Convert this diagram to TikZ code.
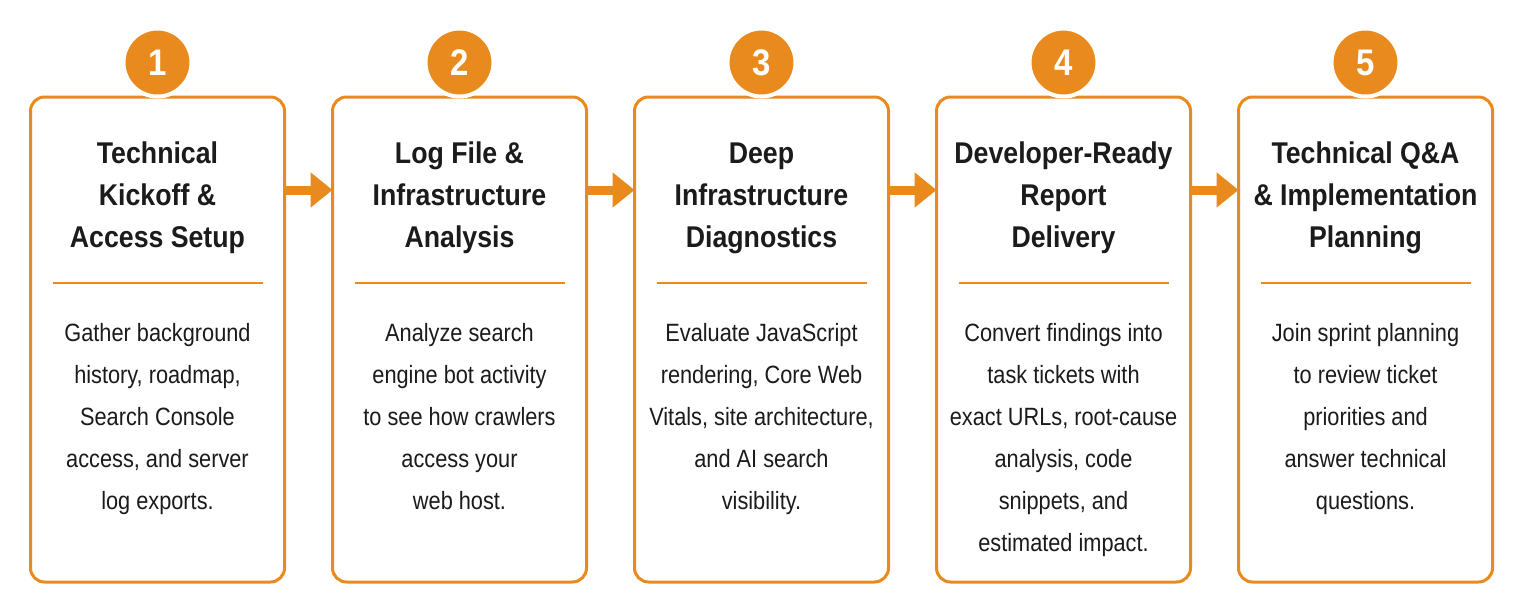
\documentclass[tikz,border=0pt]{standalone}
\usepackage{fontspec}
\setmainfont{Liberation Sans}
\newfontfamily\headfont[FakeStretch=0.89]{Liberation Sans}
\newfontfamily\copyfont[FakeStretch=0.87]{Liberation Sans}
\usepackage{xcolor}
\usepackage{tikz}
\usetikzlibrary{positioning,arrows.meta}
\definecolor{accent}{HTML}{E98A1E}
\definecolor{ink}{HTML}{1B1B1B}

\tikzset{
  stepbox/.style={draw=accent, fill=white, line width=3pt, rounded corners=14pt,
                  minimum width=254pt, minimum height=485pt, inner sep=0pt, outer sep=0pt},
  numdot/.style={circle, fill=accent, draw=white, line width=4pt, minimum size=68pt,
                 inner sep=0pt, text=white, font=\headfont\bfseries\fontsize{37}{37}\selectfont},
  steptitle/.style={anchor=base, align=center, text=ink, inner sep=0pt,
                    font=\headfont\bfseries\fontsize{30}{42}\selectfont},
  stepcopy/.style={anchor=base, align=center, text=ink, inner sep=0pt,
                   font=\copyfont\fontsize{25}{42}\selectfont},
  rule/.style={draw=accent, line width=2.5pt},
  flow/.style={draw=accent, line width=9pt, -{Triangle[length=22pt,width=34pt]}}
}

\begin{document}
\begin{tikzpicture}[x=1pt,y=1pt]
\fill[white] (0,0) rectangle (1524,-613);
\useasboundingbox (0,0) rectangle (1524,-613);

% boxes
\node[stepbox] (box1) at (157.5,-339.5) {};
\node[stepbox, right=48pt of box1] (box2) {};
\node[stepbox, right=48pt of box2] (box3) {};
\node[stepbox, right=48pt of box3] (box4) {};
\node[stepbox, right=48pt of box4] (box5) {};

% arrows
\draw[flow] ([yshift=-93pt]box1.north east) -- ([yshift=-93pt]box2.north west);
\draw[flow] ([yshift=-93pt]box2.north east) -- ([yshift=-93pt]box3.north west);
\draw[flow] ([yshift=-93pt]box3.north east) -- ([yshift=-93pt]box4.north west);
\draw[flow] ([yshift=-93pt]box4.north east) -- ([yshift=-93pt]box5.north west);

% numbers
\node[numdot] (num1) at ([yshift=34.5pt]box1.north) {1};
\node[numdot] (num2) at ([yshift=34.5pt]box2.north) {2};
\node[numdot] (num3) at ([yshift=34.5pt]box3.north) {3};
\node[numdot] (num4) at ([yshift=34.5pt]box4.north) {4};
\node[numdot] (num5) at ([yshift=34.5pt]box5.north) {5};

% titles (base = last line)
\node[steptitle] (title1) at ([yshift=-150pt]box1.north) {Technical\\Kickoff \&\\Access Setup};
\node[steptitle] (title2) at ([yshift=-150pt]box2.north) {Log File \&\\Infrastructure\\Analysis};
\node[steptitle] (title3) at ([yshift=-150pt]box3.north) {Deep\\Infrastructure\\Diagnostics};
\node[steptitle] (title4) at ([yshift=-150pt]box4.north) {Developer-Ready\\Report\\Delivery};
\node[steptitle] (title5) at ([yshift=-150pt]box5.north) {Technical Q\&A\\\& Implementation\\Planning};

% dividers
\draw[rule] ([xshift=22pt,yshift=-186pt]box1.north west) -- ([xshift=-22pt,yshift=-186pt]box1.north east);
\draw[rule] ([xshift=22pt,yshift=-186pt]box2.north west) -- ([xshift=-22pt,yshift=-186pt]box2.north east);
\draw[rule] ([xshift=22pt,yshift=-186pt]box3.north west) -- ([xshift=-22pt,yshift=-186pt]box3.north east);
\draw[rule] ([xshift=22pt,yshift=-186pt]box4.north west) -- ([xshift=-22pt,yshift=-186pt]box4.north east);
\draw[rule] ([xshift=22pt,yshift=-186pt]box5.north west) -- ([xshift=-22pt,yshift=-186pt]box5.north east);

% descriptions
\node[stepcopy] (copy1) at ([yshift=-412pt]box1.north) {Gather background\\history, roadmap,\\Search Console\\access, and server\\log exports.};
\node[stepcopy] (copy2) at ([yshift=-412pt]box2.north) {Analyze search\\engine bot activity\\to see how crawlers\\access your\\web host.};
\node[stepcopy] (copy3) at ([yshift=-412pt]box3.north) {Evaluate JavaScript\\rendering, Core Web\\Vitals, site architecture,\\and AI search\\visibility.};
\node[stepcopy] (copy4) at ([yshift=-454pt]box4.north) {Convert findings into\\task tickets with\\exact URLs, root-cause\\analysis, code\\snippets, and\\estimated impact.};
\node[stepcopy] (copy5) at ([yshift=-412pt]box5.north) {Join sprint planning\\to review ticket\\priorities and\\answer technical\\questions.};
\end{tikzpicture}
\end{document}
